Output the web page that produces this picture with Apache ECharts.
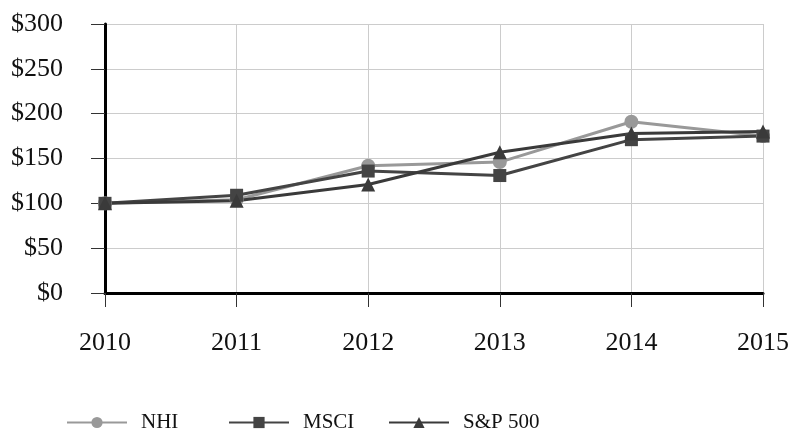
<!DOCTYPE html>
<html><head><meta charset="utf-8">
<script src="https://cdn.jsdelivr.net/npm/echarts@6/dist/echarts.min.js"></script>
<style>html,body{margin:0;padding:0;background:#fff}#c{width:792px;height:435px}</style>
</head><body><div id="c"></div>
<script>
const years = ['2010','2011','2012','2013','2014','2015'];
const nhi = [100, 104, 142, 146, 191, 175];
const msci = [100, 109, 136, 131, 171, 175];
const sp500 = [100, 103, 121, 157, 178, 180];
const seriesNames = ['NHI','MSCI','S&P 500'];

const font = 'Liberation Serif';
const chart = echarts.init(document.getElementById('c'));
function mk(name, data, color, symbol, size){
  return {name, type:'line', data, symbol, symbolSize:size, showSymbol:true,
    lineStyle:{color, width:3}, itemStyle:{color}, animation:false};
}
const legendLefts = [61, 223, 383];
chart.setOption({
  animation:false,
  grid:{left:105, right:27, top:24, bottom:142},
  legend: seriesNames.map((n, i) => ({
    top:407, left:legendLefts[i], itemWidth:60, itemHeight:14,
    textStyle:{fontFamily:font, fontSize:21, color:'#111', padding:[0,0,0,9]},
    data:[n]})),
  xAxis:{type:'category', data:years, boundaryGap:false,
    axisLine:{lineStyle:{color:'#000', width:3}},
    axisTick:{show:true, length:14, lineStyle:{color:'#333'}},
    axisLabel:{fontFamily:font, fontSize:26, color:'#111', margin:37},
    splitLine:{show:true, lineStyle:{color:'#ccc'}}},
  yAxis:{type:'value', min:0, max:300, interval:50,
    axisLine:{show:true, lineStyle:{color:'#000', width:3}},
    axisTick:{show:true, length:14, lineStyle:{color:'#333'}},
    axisLabel:{fontFamily:font, fontSize:26, color:'#111', margin:42, formatter:v=>'$'+v},
    splitLine:{show:true, lineStyle:{color:'#ccc'}}},
  series:[
    mk('NHI', nhi, '#999999', 'circle', 14),
    mk('MSCI', msci, '#444444', 'rect', 13),
    mk('S&P 500', sp500, '#3a3a3a', 'triangle', 14)
  ]
});
</script></body></html>
